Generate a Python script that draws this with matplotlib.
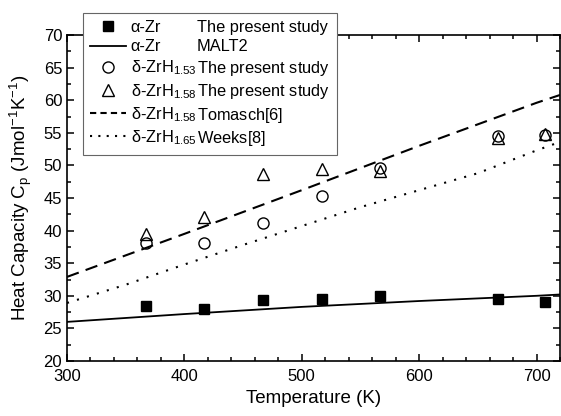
import matplotlib
matplotlib.use("Agg")
import matplotlib.pyplot as plt
from matplotlib.lines import Line2D
from matplotlib.ticker import MultipleLocator

plt.rcParams['font.family'] = ['Liberation Sans', 'DejaVu Sans']
plt.rcParams['mathtext.fontset'] = 'custom'
plt.rcParams['mathtext.rm'] = 'Liberation Sans'
plt.rcParams['mathtext.default'] = 'regular'

# measured points (temperature in K, Cp in J/mol/K)
t_meas = [367, 417, 467, 517, 567, 667, 707]
cp_zr = [28.4, 27.9, 29.3, 29.5, 29.9, 29.5, 29.1]
cp_h153 = [38.1, 38.1, 41.1, 45.3, 49.6, 54.5, 54.7]
cp_h158 = [39.5, 42.1, 48.7, 49.5, 49.2, 54.2, 54.8]

# reference curves
t_malt = [300, 400, 500, 600, 700, 720]
cp_malt = [26.0, 27.2, 28.3, 29.2, 30.0, 30.2]
t_tom = [300, 400, 500, 600, 700, 720]
cp_tom = [32.9, 39.5, 46.2, 53.0, 59.6, 60.8]
t_weeks = [300, 350, 400, 450, 500, 550, 600, 650, 700, 720]
cp_weeks = [28.9, 31.7, 34.8, 37.8, 40.7, 43.6, 46.2, 48.8, 52.3, 53.6]

fig = plt.figure(figsize=(5.61, 4.16), dpi=100)
ax = fig.add_axes([67/561, 1-361/416, (560-67)/561, (361-35)/416])

ax.plot(t_malt, cp_malt, color='k', lw=1.3)
ax.plot(t_tom, cp_tom, color='k', lw=1.5, ls=(0, (6, 3.5)))
ax.plot(t_weeks, cp_weeks, color='k', lw=1.5, ls=(0, (1, 4)))
ax.plot(t_meas, cp_zr, 's', color='k', ms=7.5, ls='none')
ax.plot(t_meas, cp_h153, 'o', mfc='none', mec='k', mew=1.0, ms=8, ls='none')
ax.plot(t_meas, cp_h158, '^', mfc='none', mec='k', mew=1.0, ms=9, ls='none')

ax.set_xlim(300, 720)
ax.set_ylim(20, 70)
ax.xaxis.set_major_locator(MultipleLocator(100))
ax.xaxis.set_minor_locator(MultipleLocator(20))
ax.yaxis.set_major_locator(MultipleLocator(5))
ax.yaxis.set_minor_locator(MultipleLocator(2.5))
ax.tick_params(which='both', direction='in', top=True, right=True, labelsize=12, width=1.1)
ax.tick_params(which='major', length=5)
ax.tick_params(which='minor', length=3)
ax.tick_params(axis='x', pad=6)
for s in ax.spines.values():
    s.set_linewidth(1.2)
ax.set_xlabel('Temperature (K)', fontsize=13.5, labelpad=4)
ax.set_ylabel('Heat Capacity C$_p$ (Jmol$^{-1}$K$^{-1}$)', fontsize=13.5, labelpad=7)

blank = Line2D([], [], ls='none')
handles = [
    Line2D([], [], marker='s', color='k', ms=7.5, ls='none'),
    Line2D([], [], color='k', lw=1.3),
    Line2D([], [], marker='o', mfc='none', mec='k', ms=8, ls='none'),
    Line2D([], [], marker='^', mfc='none', mec='k', ms=9, ls='none'),
    Line2D([], [], color='k', lw=1.5, ls=(0, (3, 2))),
    Line2D([], [], color='k', lw=1.5, ls=(0, (1, 3))),
] + [blank] * 6
sub = r'$_{\ }$'  # keeps the row height equal to the subscripted labels
labels = ['α-Zr', 'α-Zr', 'δ-ZrH$_{1.53}$', 'δ-ZrH$_{1.58}$', 'δ-ZrH$_{1.58}$', 'δ-ZrH$_{1.65}$',
          'The present study', 'MALT2', 'The present study' + sub, 'The present study' + sub,
          'Tomasch[6]' + sub, 'Weeks[8]' + sub]
leg = fig.legend(handles, labels, ncol=2, loc='upper left',
                 bbox_to_anchor=(83/561, 1-13/416), borderaxespad=0,
                 fontsize=11.8, handlelength=2.2, handletextpad=0.3,
                 columnspacing=-2.5, labelspacing=0.27, borderpad=0.42,
                 fancybox=False, framealpha=1, edgecolor='0.4')
leg.get_frame().set_linewidth(0.8)

fig.savefig('out.png', dpi=100)
